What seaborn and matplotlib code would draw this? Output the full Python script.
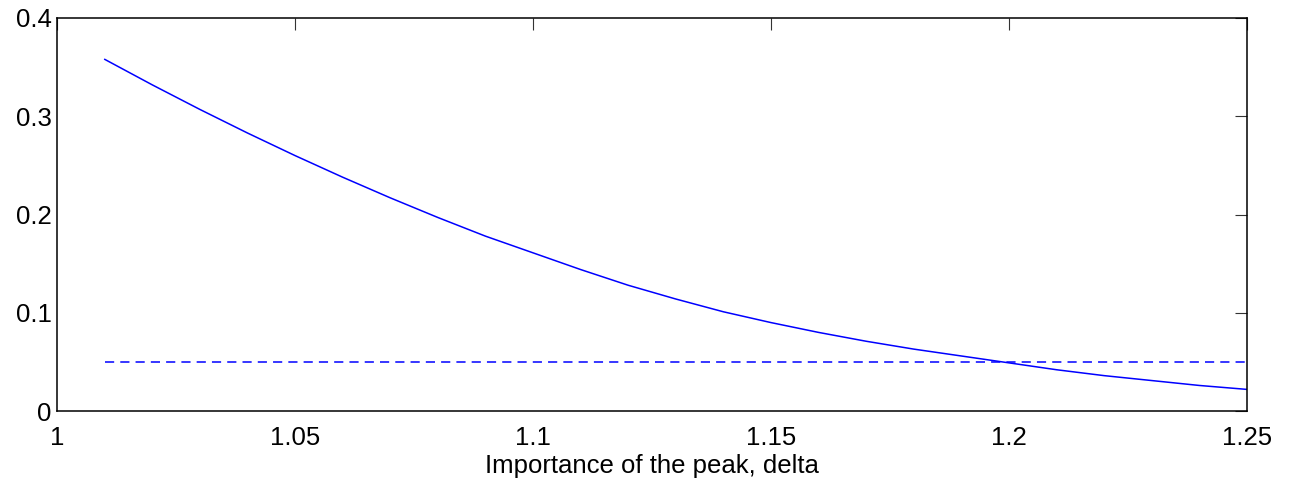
import matplotlib
matplotlib.use("Agg")
import matplotlib.pyplot as plt
import seaborn as sns
import pandas as pd

# values
delta = [1.01, 1.02, 1.03, 1.04, 1.05, 1.06, 1.07, 1.08, 1.09, 1.10,
         1.11, 1.12, 1.13, 1.14, 1.15, 1.16, 1.17, 1.18, 1.19, 1.20,
         1.21, 1.22, 1.23, 1.24, 1.25]
pvalue = [0.358, 0.332, 0.307, 0.283, 0.260, 0.238, 0.217, 0.197, 0.178, 0.161,
          0.144, 0.128, 0.114, 0.101, 0.090, 0.080, 0.071, 0.063, 0.056, 0.049,
          0.042, 0.036, 0.031, 0.026, 0.022]
alpha = 0.05
x_ticks = [1, 1.05, 1.1, 1.15, 1.2, 1.25]
x_tick_labels = ["1", "1.05", "1.1", "1.15", "1.2", "1.25"]
y_ticks = [0, 0.1, 0.2, 0.3, 0.4]
y_tick_labels = ["0", "0.1", "0.2", "0.3", "0.4"]

sns.set_style("white")
plt.rcParams['font.family'] = ['Liberation Sans', 'DejaVu Sans']
plt.rcParams['text.color'] = 'black'
plt.rcParams['xtick.color'] = 'black'
plt.rcParams['ytick.color'] = 'black'
plt.rcParams['axes.labelcolor'] = 'black'

df = pd.DataFrame({"delta": delta, "pvalue": pvalue})
df["alpha"] = alpha

fig = plt.figure(figsize=(12.89, 4.93), dpi=100)
ax = fig.add_axes([0.0442, 0.1663, 0.9232, 0.7972])

sns.lineplot(data=df, x="delta", y="pvalue", color="blue", linewidth=1.1, ax=ax)
sns.lineplot(data=df, x="delta", y="alpha", color="blue", linewidth=1.1,
             linestyle=(0, (6, 4)), ax=ax)

fs = 18.5
ax.set_xlim(1, 1.25)
ax.set_ylim(0, 0.4)
ax.set_xticks(x_ticks)
ax.set_xticklabels(x_tick_labels)
ax.set_yticks(y_ticks)
ax.set_yticklabels(y_tick_labels)
ax.tick_params(direction="in", length=8.5, width=0.8, labelsize=fs,
               top=True, right=True, pad=11, color="#333333",
               labelcolor="black")
ax.tick_params(axis="y", pad=4)
for sp in ax.spines.values():
    sp.set_color("black")
    sp.set_linewidth(1.1)

ax.set_xlabel("Importance of the peak, delta", fontsize=fs, labelpad=3)
ax.set_ylabel("")
ax.set_title("p-value of the test of the peak hypothesis as a function of delta",
             fontsize=fs, pad=20)

fig.savefig("out.png", dpi=100)
